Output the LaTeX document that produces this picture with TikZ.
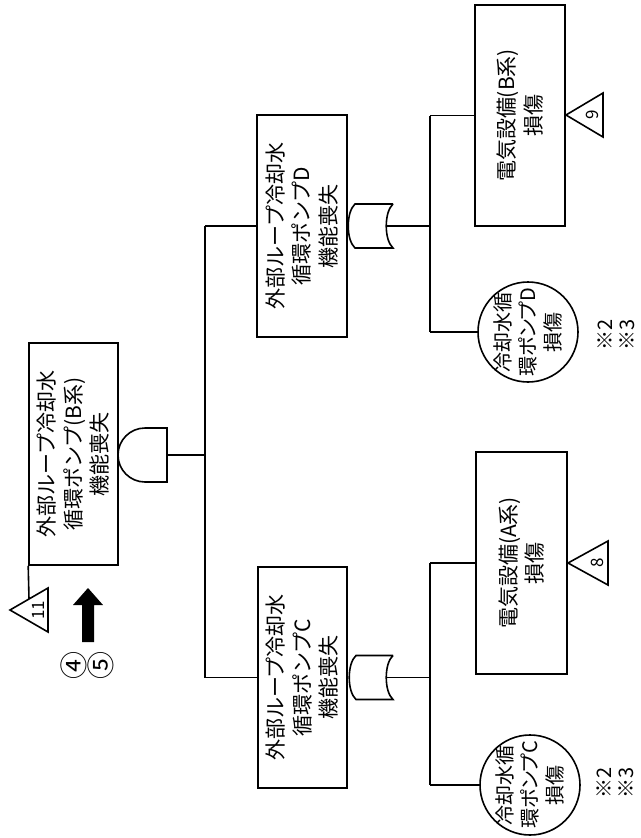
\documentclass[tikz,border=0pt]{standalone}
\usepackage{fontspec}
\setmainfont{Noto Sans CJK JP}
\newfontfamily\jp{Noto Sans CJK JP}
\newfontfamily\jpp[RawFeature=+palt]{Noto Sans CJK JP}
\begin{document}
\begin{tikzpicture}[x=1pt,y=-1pt,
  line width=1.6pt,
  box/.style={draw, rectangle, inner sep=0pt},
  txt/.style={rotate=90, align=center, font=\fontsize{21}{26.5}\selectfont\jp, inner sep=0pt},
  ctxt/.style={rotate=90, align=center, font=\fontsize{20}{25}\selectfont\jpp, inner sep=0pt},
  circ/.style={draw, circle, inner sep=0pt, minimum size=100pt},
  tri/.style={draw, line join=miter},
  note/.style={rotate=90, align=left, font=\fontsize{20}{22}\selectfont\jp, inner sep=0pt},
  tnum/.style={rotate=90, font=\fontsize{17}{17}\selectfont\jp, inner sep=0pt}]
\useasboundingbox (0,0) rectangle (640,838);

% top event
\node[box, minimum width=89pt, minimum height=222pt,
  label={[txt]center:{外部ループ冷却水\\循環ポンプ(B系)\\機能喪失}}] (top) at (73.5,454) {};
% AND gate
\draw (167,428) -- (145,428) arc[start angle=270, end angle=90, radius=27] -- (167,482) -- cycle;
\coordinate (andin) at (167,455);
\coordinate (jn) at (205,455);
\coordinate (jD) at (205,226);
\coordinate (jC) at (205,677.5);

% transfer 11
\node[tnum] (t11) at (38,610) {11};
\draw[tri] (48,588) -- (10,610) -- (48,632) -- cycle;
\coordinate (t11top) at (29,599);
\draw (top.south west) -- (t11top);

% big arrow
\fill (82,642) -- (82,605) -- (73,605) -- (88,588) -- (103,605) -- (94,605) -- (94,642) -- cycle;
\node[rotate=90, align=center, font=\fontsize{28}{26}\selectfont\jp, inner sep=0pt] (refs) at (87,665) {④\\⑤};

% intermediate boxes
\node[box, minimum width=90pt, minimum height=222pt,
  label={[txt]center:{外部ループ冷却水\\循環ポンプD\\機能喪失}}] (bD) at (302,226) {};
\node[box, minimum width=89pt, minimum height=221pt,
  label={[txt]center:{外部ループ冷却水\\循環ポンプC\\機能喪失}}] (bC) at (302.5,677.5) {};

\draw (andin) -- (jn);
\draw (jD) -- (jC);
\draw (jD) -- (bD.west);
\draw (jC) -- (bC.west);

% OR gates
\draw (393,204) -- (355,204) .. controls (346,212) and (346,240) .. (355,248) -- (393,248) .. controls (384,240) and (384,212) .. (393,204);
\coordinate (orD) at (387,226);
\draw (393,655.5) -- (356,655.5) .. controls (347,663.5) and (347,691.5) .. (356,699.5) -- (393,699.5) .. controls (384,691.5) and (384,663.5) .. (393,655.5);
\coordinate (orC) at (387,677.5);

% D branch
\node[box, minimum width=90pt, minimum height=221pt,
  label={[txt]center:{電気設備(B系)\\損傷}}] (e9) at (520,115.5) {};
\node[tnum] (t9) at (592,115) {9};
\draw[tri] (603,93) -- (566,115) -- (603,137) -- cycle;
\node[circ, label={[ctxt]center:{冷却水循\\環ポンプD\\損傷}}] (cD) at (528,332) {};
\node[note] (nD) at (616,335) {※2\\※3};
\coordinate (vD1) at (430,115.5);
\coordinate (vD2) at (430,332);
\coordinate (vDm) at (430,226);
\draw (orD) -- (vDm);
\draw (vD1) -- (vD2);
\draw (vD1) -- (e9.west);
\draw (vD2) -- (cD.west);

% C branch
\node[box, minimum width=91pt, minimum height=222pt,
  label={[txt]center:{電気設備(A系)\\損傷}}] (e8) at (521.5,563) {};
\node[tnum] (t8) at (597,563) {8};
\draw[tri] (608,541) -- (568,563) -- (608,585) -- cycle;
\node[circ, label={[ctxt]center:{冷却水循\\環ポンプC\\損傷}}] (cC) at (530,785) {};
\node[note] (nC) at (615,783) {※2\\※3};
\coordinate (vC1) at (430,563);
\coordinate (vC2) at (430,785);
\coordinate (vCm) at (430,677.5);
\draw (orC) -- (vCm);
\draw (vC1) -- (vC2);
\draw (vC1) -- (e8.west);
\draw (vC2) -- (cC.west);
\end{tikzpicture}
\end{document}
